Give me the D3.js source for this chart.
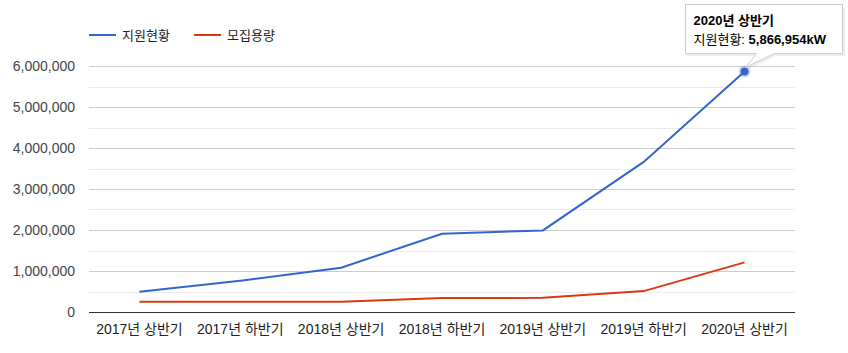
<!DOCTYPE html>
<html><head><meta charset="utf-8">
<script src="https://cdn.jsdelivr.net/npm/d3@7"></script>
<style>
body{margin:0;background:#fff;}
svg{font-family:Arial,"Liberation Sans","Noto Sans CJK KR",sans-serif;}
</style></head>
<body><svg id="c" width="848" height="353"></svg>
<script>
const categories = ["2017년 상반기","2017년 하반기","2018년 상반기","2018년 하반기","2019년 상반기","2019년 하반기","2020년 상반기"];
const supportValues = [495000, 760000, 1080000, 1910000, 1990000, 3660000, 5866954];
const capacityValues = [250000, 250000, 250000, 340000, 345000, 510000, 1210000];
const seriesNames = ["지원현황","모집용량"];
const colors = ["#3366cc","#dc3912"];
const yTicks = [0,1000000,2000000,3000000,4000000,5000000,6000000];
const minorTicks = [500000,1500000,2500000,3500000,4500000,5500000];

(function(){
const svg = d3.select("#c");
const pL=89,pR=795,pT=66,pB=312;
const x = d3.scaleBand().domain(categories).range([pL,pR]);
const y = d3.scaleLinear().domain([0,6000000]).range([pB,pT]);
const fmt = d3.format(",");

svg.append("g").selectAll("line").data(minorTicks).join("line")
  .attr("x1",pL).attr("x2",pR).attr("y1",d=>Math.round(y(d))+0.5).attr("y2",d=>Math.round(y(d))+0.5)
  .attr("stroke","#ebebeb").attr("stroke-width",1);
svg.append("g").selectAll("line").data(yTicks.filter(d=>d>0)).join("line")
  .attr("x1",pL).attr("x2",pR).attr("y1",d=>Math.round(y(d))+0.5).attr("y2",d=>Math.round(y(d))+0.5)
  .attr("stroke","#cccccc").attr("stroke-width",1);
svg.append("line").attr("x1",pL).attr("x2",pR).attr("y1",y(0)+0.5).attr("y2",y(0)+0.5)
  .attr("stroke","#333").attr("stroke-width",1);

svg.append("g").selectAll("text").data(yTicks).join("text")
  .attr("x",75).attr("y",d=>y(d)+5).attr("text-anchor","end")
  .attr("font-size",14).attr("fill","#444").text(d=>fmt(d));
svg.append("g").selectAll("text").data(categories).join("text")
  .attr("x",d=>x(d)+x.bandwidth()/2).attr("y",334).attr("text-anchor","middle")
  .attr("font-size",14).attr("fill","#222").text(d=>d);

const line = d3.line().x((d,i)=>x(categories[i])+x.bandwidth()/2).y(d=>y(d));
[supportValues,capacityValues].forEach((vals,k)=>{
  svg.append("path").attr("d",line(vals)).attr("fill","none")
    .attr("stroke",colors[k]).attr("stroke-width",2);
});

const legX=[89,194];
seriesNames.forEach((n,k)=>{
  svg.append("line").attr("x1",legX[k]).attr("x2",legX[k]+27).attr("y1",35).attr("y2",35)
    .attr("stroke",colors[k]).attr("stroke-width",2);
  svg.append("text").attr("x",legX[k]+33).attr("y",40).attr("font-size",13).attr("fill","#222").text(n);
});

const li = categories.length-1;
const px = x(categories[li])+x.bandwidth()/2, py = y(supportValues[li]);
svg.append("circle").attr("cx",px).attr("cy",py).attr("r",6).attr("fill",colors[0]).attr("opacity",0.25);
svg.append("circle").attr("cx",px).attr("cy",py).attr("r",4).attr("fill",colors[0]);

const bx=685.5, by=4.5, bw=157, bh=49;
const tip = svg.append("g");
tip.append("path")
  .attr("d",`M${bx+bw} ${by+3} L${bx+bw} ${by+bh} L${px+30} ${by+bh} L${px+1} ${py-4} L${px+12} ${by+bh} L${bx} ${by+bh}`)
  .attr("fill","none").attr("stroke","#bbb").attr("stroke-width",3).attr("opacity",0.25).attr("transform","translate(1,1)");
tip.append("path")
  .attr("d",`M${bx} ${by} L${bx+bw} ${by} L${bx+bw} ${by+bh} L${px+30} ${by+bh} L${px+1} ${py-4} L${px+12} ${by+bh} L${bx} ${by+bh} Z`)
  .attr("fill","#fff").attr("stroke","#ccc").attr("stroke-width",1);
tip.append("text").attr("x",bx+8).attr("y",by+20).attr("font-size",13).attr("font-weight","bold").attr("fill","#000").text(categories[li]);
const t2 = tip.append("text").attr("x",bx+8).attr("y",by+39).attr("font-size",13).attr("fill","#000");
t2.append("tspan").text(seriesNames[0]+": ");
t2.append("tspan").attr("font-weight","bold").text(fmt(supportValues[li])+"kW");
})();
</script></body></html>
